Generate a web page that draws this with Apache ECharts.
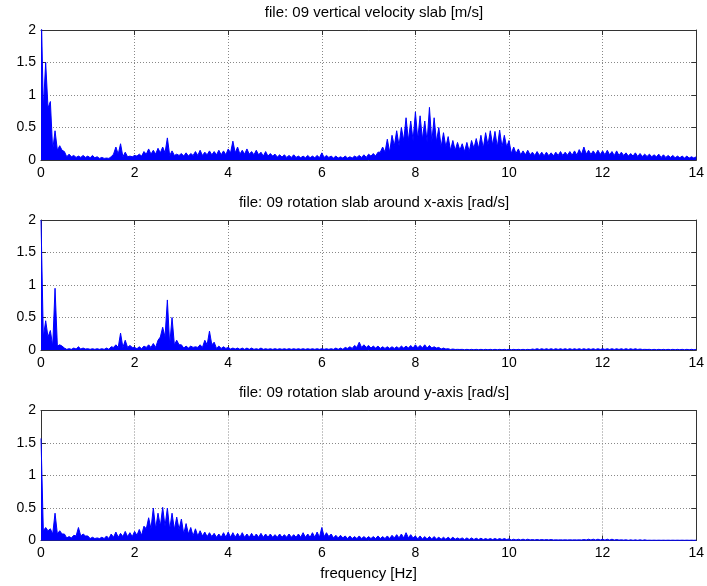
<!DOCTYPE html>
<html>
<head>
<meta charset="utf-8">
<script src="https://cdn.jsdelivr.net/npm/echarts@6/dist/echarts.min.js"></script>
<style>
html,body{margin:0;padding:0;background:#fff;}
#c{width:707px;height:586px;}
</style>
</head>
<body>
<div id="c"></div>
<script>
// frequency grid of the envelope readings (Hz)
const freqStep = 0.1;      // spacing of the peak readings
const coreStep = 0.25;     // spacing of the dense-core readings
const xTicks = [0, 2, 4, 6, 8, 10, 12, 14];
const yTicks = [0, 0.5, 1, 1.5, 2];
const titles = [
  'file: 09 vertical velocity slab [m/s]',
  'file: 09 rotation slab around x-axis [rad/s]',
  'file: 09 rotation slab around y-axis [rad/s]'
];
const xLabel = 'frequency [Hz]';

// peak envelope, one value per 0.1 Hz from 0 to 14 Hz
const velHi = [
  2.5,1.5,0.9,0.45,0.22,0.13,0.09,0.07,0.06,0.07,
  0.06,0.07,0.05,0.04,0.03,0.05,0.2,0.25,0.12,0.06,
  0.07,0.09,0.13,0.17,0.15,0.18,0.2,0.34,0.14,0.09,
  0.1,0.11,0.1,0.13,0.15,0.12,0.14,0.13,0.15,0.14,
  0.17,0.29,0.2,0.15,0.17,0.13,0.15,0.12,0.13,0.1,
  0.09,0.08,0.08,0.07,0.08,0.06,0.06,0.07,0.06,0.07,
  0.11,0.07,0.06,0.06,0.05,0.06,0.05,0.06,0.07,0.08,
  0.09,0.1,0.12,0.2,0.32,0.38,0.45,0.5,0.65,0.6,
  0.74,0.68,0.6,0.81,0.65,0.5,0.42,0.36,0.3,0.27,
  0.25,0.27,0.3,0.33,0.38,0.42,0.45,0.44,0.46,0.38,
  0.3,0.2,0.17,0.14,0.15,0.12,0.13,0.12,0.12,0.11,
  0.12,0.13,0.12,0.13,0.14,0.16,0.2,0.15,0.14,0.15,
  0.14,0.15,0.13,0.14,0.12,0.11,0.1,0.11,0.1,0.09,
  0.09,0.08,0.09,0.08,0.07,0.07,0.06,0.06,0.06,0.05,
  0.05
];
const rotXHi = [
  2.0,0.45,0.3,0.95,0.08,0.03,0.02,0.03,0.05,0.03,
  0.02,0.02,0.02,0.02,0.03,0.05,0.08,0.26,0.15,0.07,
  0.04,0.05,0.06,0.08,0.1,0.15,0.35,0.77,0.5,0.15,
  0.08,0.06,0.06,0.05,0.08,0.15,0.29,0.12,0.06,0.05,
  0.04,0.03,0.03,0.03,0.03,0.03,0.02,0.03,0.02,0.02,
  0.02,0.02,0.02,0.02,0.02,0.02,0.02,0.02,0.02,0.02,
  0.02,0.02,0.02,0.03,0.03,0.04,0.05,0.07,0.12,0.08,
  0.07,0.06,0.06,0.05,0.05,0.05,0.05,0.06,0.06,0.07,
  0.08,0.07,0.08,0.07,0.05,0.04,0.03,0.02,0.015,0.01,
  0.01,0.01,0.01,0.01,0.01,0.01,0.01,0.01,0.01,0.01,
  0.01,0.01,0.01,0.01,0.01,0.015,0.02,0.02,0.02,0.02,
  0.02,0.02,0.02,0.02,0.02,0.02,0.02,0.02,0.02,0.02,
  0.02,0.02,0.02,0.02,0.02,0.02,0.02,0.02,0.015,0.01,
  0.01,0.01,0.01,0.01,0.01,0.01,0.01,0.01,0.01,0.01,
  0.01
];
const rotYHi = [
  1.57,0.2,0.18,0.42,0.15,0.1,0.06,0.08,0.2,0.1,
  0.07,0.05,0.04,0.05,0.07,0.1,0.13,0.11,0.14,0.12,
  0.14,0.17,0.22,0.35,0.5,0.42,0.51,0.5,0.42,0.36,
  0.33,0.26,0.2,0.18,0.15,0.13,0.12,0.11,0.1,0.12,
  0.13,0.12,0.11,0.12,0.1,0.11,0.1,0.11,0.1,0.1,
  0.09,0.1,0.09,0.1,0.09,0.1,0.12,0.1,0.12,0.13,
  0.2,0.12,0.1,0.08,0.08,0.07,0.07,0.06,0.07,0.06,
  0.06,0.06,0.07,0.06,0.07,0.08,0.09,0.1,0.12,0.09,
  0.07,0.07,0.06,0.06,0.06,0.05,0.05,0.05,0.05,0.04,
  0.04,0.04,0.04,0.035,0.035,0.03,0.03,0.03,0.03,0.03,
  0.025,0.02,0.02,0.02,0.02,0.015,0.015,0.015,0.015,0.015,
  0.01,0.01,0.01,0.01,0.01,0.01,0.015,0.02,0.02,0.02,
  0.02,0.02,0.02,0.015,0.01,0.01,0.01,0.01,0.01,0.01,
  0.005,0.005,0.005,0.005,0.005,0.005,0.005,0.005,0.005,0.005,
  0.005
];

// top of the dense (solid) part of the noise band, one value per 0.25 Hz
const velCore = [
  0.8,0.15,0.05,0.04,0.035,0.025,0.09,0.05,
  0.06,0.09,0.11,0.07,0.06,0.07,0.08,0.08,
  0.11,0.09,0.08,0.06,0.045,0.04,0.035,0.035,
  0.04,0.03,0.03,0.04,0.06,0.12,0.22,0.3,
  0.32,0.28,0.2,0.15,0.13,0.18,0.23,0.2,
  0.1,0.08,0.07,0.065,0.07,0.075,0.09,0.085,
  0.08,0.07,0.06,0.055,0.05,0.04,0.035,0.03,
  0.03
];
const rotXCore = [
  0.2,0.06,0.01,0.015,0.01,0.01,0.04,0.04,
  0.02,0.04,0.2,0.08,0.03,0.04,0.08,0.025,
  0.015,0.01,0.01,0.01,0.01,0.01,0.01,0.01,
  0.01,0.01,0.025,0.04,0.03,0.025,0.025,0.03,
  0.035,0.03,0.015,0.008,0.004,0.004,0.004,0.004,
  0.004,0.004,0.008,0.008,0.008,0.008,0.008,0.008,
  0.008,0.008,0.008,0.008,0.004,0.004,0.004,0.004,
  0.004
];
const rotYCore = [
  0.15,0.1,0.04,0.07,0.03,0.03,0.05,0.06,
  0.08,0.18,0.22,0.17,0.1,0.07,0.06,0.05,
  0.05,0.05,0.05,0.05,0.05,0.05,0.05,0.05,
  0.06,0.04,0.03,0.03,0.03,0.03,0.04,0.04,
  0.025,0.025,0.02,0.02,0.015,0.015,0.015,0.015,
  0.008,0.008,0.008,0.008,0.008,0.008,0.008,0.008,
  0.006,0.006,0.003,0.003,0.003,0.003,0.003,0.003,
  0.003
];

const hiSets = [velHi, rotXHi, rotYHi];
const coreSets = [velCore, rotXCore, rotYCore];

function band(hi, core) {
  const pts = [];
  for (let i = 0; i < hi.length; i++) {
    const f = +(i * freqStep).toFixed(3);
    pts.push([f, hi[i]]);
    if (i < hi.length - 1) {
      const fm = +(f + freqStep / 2).toFixed(3);
      pts.push([fm, core[Math.floor(fm / coreStep + 1e-9)]]);
    }
  }
  return pts;
}

const FONT = 'Liberation Sans, Arial, sans-serif';
const gridTops = [30, 220, 410.5];
const gridH = 130;
const gridL = 41, gridW = 656;
const frameColor = '#333';

const grids = [], xAxes = [], yAxes = [], series = [], title = [];
gridTops.forEach((top, k) => {
  grids.push({left: gridL, top: top, width: gridW, height: gridH, containLabel: false});
  title.push({
    text: titles[k], left: gridL + gridW / 2, top: top - 30, textAlign: 'center',
    textStyle: {fontFamily: FONT, fontSize: 15, fontWeight: 'normal', color: '#000'}
  });
  const xBase = {
    type: 'value', gridIndex: k, min: xTicks[0], max: xTicks[xTicks.length - 1],
    interval: xTicks[1] - xTicks[0],
    axisLine: {show: true, onZero: false, lineStyle: {color: frameColor, width: 1}},
    axisTick: {show: true, inside: true, length: 5, lineStyle: {color: frameColor}}
  };
  xAxes.push(Object.assign({}, xBase, {
    position: 'bottom',
    axisLabel: {show: true, margin: 6, fontFamily: FONT, fontSize: 14, color: '#000'},
    splitLine: {show: true, lineStyle: {color: '#888', type: [1, 2], width: 1}},
    name: k === 2 ? xLabel : '', nameLocation: 'middle', nameGap: 26,
    nameTextStyle: {fontFamily: FONT, fontSize: 15, color: '#000'}
  }));
  xAxes.push(Object.assign({}, xBase, {
    position: 'top', axisLabel: {show: false}, splitLine: {show: false}
  }));
  const yBase = {
    type: 'value', gridIndex: k, min: yTicks[0], max: yTicks[yTicks.length - 1],
    interval: yTicks[1] - yTicks[0],
    axisLine: {show: true, onZero: false, lineStyle: {color: frameColor, width: 1}},
    axisTick: {show: true, inside: true, length: 5, lineStyle: {color: frameColor}}
  };
  yAxes.push(Object.assign({}, yBase, {
    position: 'left',
    axisLabel: {show: true, margin: 5, fontFamily: FONT, fontSize: 14, color: '#000'},
    splitLine: {show: true, lineStyle: {color: '#888', type: [1, 2], width: 1}}
  }));
  yAxes.push(Object.assign({}, yBase, {
    position: 'right', axisLabel: {show: false}, splitLine: {show: false}
  }));
  series.push({
    type: 'line', xAxisIndex: 2 * k, yAxisIndex: 2 * k,
    data: band(hiSets[k], coreSets[k]),
    showSymbol: false, symbol: 'none', clip: true,
    lineStyle: {color: '#0000ff', width: 1},
    areaStyle: {color: '#0000ff', opacity: 1, origin: 'start'},
    z: 3
  });
});

const chart = echarts.init(document.getElementById('c'), null, {renderer: 'canvas'});
chart.setOption({
  animation: false,
  backgroundColor: '#fff',
  title: title,
  grid: grids,
  xAxis: xAxes,
  yAxis: yAxes,
  series: series
});
</script>
</body>
</html>
